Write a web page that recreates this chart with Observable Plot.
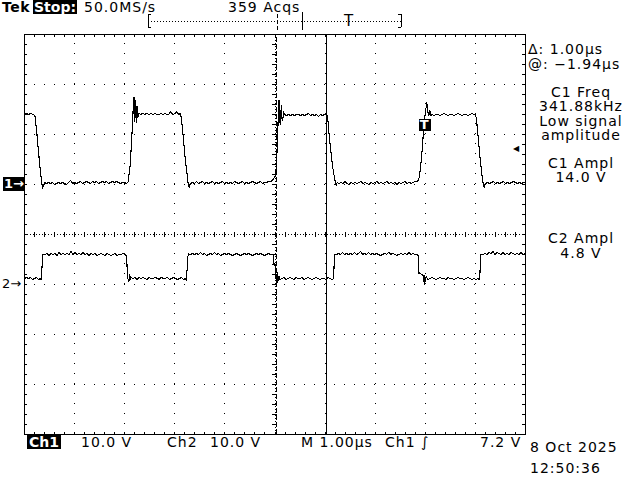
<!DOCTYPE html>
<html>
<head>
<meta charset="utf-8">
<script src="https://cdn.jsdelivr.net/npm/d3@7"></script>
<script src="https://cdn.jsdelivr.net/npm/@observablehq/plot@0.6"></script>
<style>
  html, body { margin: 0; padding: 0; background: #fff; }
  #scope { position: relative; width: 640px; height: 480px; overflow: hidden; background: #fff;
           font-family: "DejaVu Sans", sans-serif; font-size: 14px; letter-spacing: 1px; color: #000; }
  #scope svg { position: absolute; left: 0; top: 0; shape-rendering: crispEdges; }
  .t { position: absolute; line-height: 14px; white-space: pre; }
  .inv { background: #000; color: #fff; font-weight: bold; }
  .c { width: 112px; text-align: center; left: 525px; }
</style>
</head>
<body>
<div id="scope"></div>
<script>
// ---- Readout text ----
const headerTexts = ["Tek", "Stop:", "50.0MS/s", "359 Acqs"];
const cursorTexts = ["\u0394: 1.00\u00b5s", "@: \u22121.94\u00b5s"];
const freqTexts = ["C1 Freq", "341.88kHz", "Low signal", "amplitude"];
const ampl1Texts = ["C1 Ampl", "14.0 V"];
const ampl2Texts = ["C2 Ampl", "4.8 V"];
const footerTexts = ["Ch1", "10.0 V", "Ch2", "10.0 V", "M 1.00\u00b5s", "Ch1 \u222b", "7.2 V"];
const dateTexts = ["8 Oct 2025", "12:50:36"];

// ---- Settings (per channel) ----
const voltsPerDiv = 10;          // both channels 10.0 V/div
const ch1Ground = 5;             // divisions from bottom
const ch2Ground = 3;
const triggerLevel = 7.2;        // V on Ch1
const cursorTimes = [5.02, 6.02]; // µs on screen (Δ = 1.00 µs)
const triggerMark = [{t: 7.99, div: 6.19}];
const recordBar = {start: 2.48, end: 7.52, view: 5.04, cursor: 5.54, trig: 6.48};

// ---- Channel 1 trace [time µs, volts] ----
const ch1Trace = [
 [0.00,14.0],[0.04,14.2],[0.08,14.0],[0.12,14.2],[0.18,14.0],[0.21,13.6],
 [0.24,11.0],[0.27,7.6],[0.30,4.4],[0.33,1.6],[0.35,0.0],[0.36,-0.8],[0.38,-0.2],[0.40,0.4],
 [0.44,0.2],[0.48,0.4],[0.52,0.2],[0.56,0.4],[0.60,0.0],[0.64,0.2],[0.68,0.4],[0.72,0.2],[0.76,0.4],
 [0.80,0.2],[0.84,0.0],[0.88,0.4],[0.92,0.8],[0.96,0.2],[1.00,0.4],[1.04,0.2],[1.08,0.4],[1.12,0.6],
 [1.16,0.2],[1.20,0.4],[1.24,0.6],[1.28,0.4],[1.32,0.2],[1.36,0.6],[1.40,0.4],[1.44,0.6],[1.48,0.2],
 [1.52,0.4],[1.56,0.6],[1.60,0.4],[1.64,0.6],[1.68,0.2],[1.72,0.4],[1.76,0.6],[1.80,0.4],[1.84,0.6],
 [1.88,0.4],[1.92,0.2],[1.96,0.4],[2.00,0.4],[2.04,0.2],
 [2.07,0.6],[2.11,4.0],[2.14,9.0],[2.16,13.0],[2.175,16.5],[2.185,17.4],[2.20,12.6],[2.215,16.8],
 [2.23,12.4],[2.245,15.6],[2.26,13.4],[2.28,14.2],
 [2.32,14.0],[2.36,14.2],[2.40,14.0],[2.44,14.2],[2.48,14.0],[2.52,14.2],[2.56,14.0],[2.60,14.2],
 [2.64,14.0],[2.68,14.0],[2.72,14.2],[2.76,14.0],[2.80,14.2],[2.84,14.0],[2.88,14.0],[2.92,14.6],
 [2.96,14.0],[3.00,14.2],[3.04,14.6],[3.08,14.0],[3.11,14.2],
 [3.13,13.4],[3.17,9.4],[3.21,5.0],[3.25,1.6],[3.27,-0.2],[3.29,-0.6],[3.31,0.2],
 [3.35,0.4],[3.39,0.2],[3.43,0.6],[3.47,0.2],[3.51,0.4],[3.55,0.6],[3.59,0.2],[3.63,0.4],[3.67,0.2],
 [3.71,0.4],[3.75,0.6],[3.79,0.2],[3.83,0.4],[3.87,0.2],[3.91,0.4],[3.95,0.6],[3.99,0.2],[4.03,0.4],
 [4.07,0.2],[4.11,0.4],[4.15,0.2],[4.19,0.6],[4.23,0.4],[4.27,0.2],[4.31,0.4],[4.35,0.6],[4.39,0.2],
 [4.43,0.4],[4.47,0.2],[4.51,0.4],[4.55,0.6],[4.59,0.4],[4.63,0.2],[4.67,0.4],[4.71,0.6],[4.75,0.2],
 [4.79,0.4],[4.83,0.4],[4.87,0.6],[4.91,0.6],
 [4.95,0.8],[5.00,1.6],[5.02,2.8],[5.04,6.5],[5.055,10.1],[5.07,16.0],[5.08,16.8],[5.095,12.6],
 [5.11,12.1],[5.125,15.8],[5.14,13.2],[5.155,12.8],[5.17,14.6],[5.19,14.0],
 [5.23,13.8],[5.27,14.0],[5.31,13.8],[5.35,14.0],[5.39,13.8],[5.43,14.0],[5.47,14.0],[5.51,13.8],
 [5.55,14.0],[5.59,13.8],[5.63,14.0],[5.67,14.2],[5.71,13.8],[5.75,14.0],[5.79,13.8],[5.83,14.0],
 [5.87,13.6],[5.91,14.0],[5.95,13.8],[5.99,14.0],[6.03,14.0],[6.05,13.8],
 [6.065,11.5],[6.09,9.0],[6.12,6.2],[6.15,3.6],[6.185,1.5],[6.21,0.2],[6.22,-0.2],[6.24,0.4],
 [6.28,0.2],[6.32,0.4],[6.36,0.2],[6.40,0.6],[6.44,0.2],[6.48,0.0],[6.52,0.4],[6.56,0.2],[6.60,0.4],
 [6.64,0.2],[6.68,0.4],[6.72,0.6],[6.76,0.2],[6.80,0.4],[6.84,0.2],[6.88,0.0],[6.92,0.4],[6.96,0.2],
 [7.00,0.4],[7.04,0.6],[7.08,0.2],[7.12,0.4],[7.16,0.2],[7.20,0.4],[7.24,0.6],[7.28,0.2],[7.32,0.4],
 [7.36,0.2],[7.40,0.4],[7.44,0.0],[7.48,0.4],[7.52,0.2],[7.56,0.4],[7.60,0.6],[7.64,0.2],[7.68,0.4],
 [7.72,0.2],[7.76,0.4],[7.80,0.6],[7.84,0.6],
 [7.87,1.0],[7.90,3.0],[7.93,6.0],[7.96,10.0],[7.99,13.5],[8.01,15.0],[8.03,16.5],[8.05,14.6],
 [8.07,13.8],[8.09,14.8],[8.11,13.8],[8.13,14.0],
 [8.17,13.8],[8.21,14.0],[8.25,14.0],[8.29,13.8],[8.33,14.0],[8.37,14.2],[8.41,14.0],[8.45,13.8],
 [8.49,14.0],[8.53,14.0],[8.57,13.8],[8.61,14.0],[8.65,14.2],[8.69,14.0],[8.73,13.8],[8.77,14.0],
 [8.81,14.0],[8.85,13.8],[8.89,14.0],[8.93,14.2],[8.97,14.0],[9.00,14.0],
 [9.02,13.2],[9.06,9.0],[9.10,4.6],[9.14,1.2],[9.16,-0.2],[9.18,-0.6],[9.20,0.2],
 [9.24,0.4],[9.28,0.2],[9.32,0.4],[9.36,0.6],[9.40,0.2],[9.44,0.4],[9.48,0.2],[9.52,0.4],[9.56,0.6],
 [9.60,0.2],[9.64,0.4],[9.68,0.2],[9.72,0.4],[9.76,0.6],[9.80,0.4],[9.84,0.2],[9.88,0.4],[9.92,0.2],
 [9.96,0.4],[10.0,0.4]
];

// ---- Channel 2 trace [time µs, volts] ----
const ch2Trace = [
 [0.00,1.2],[0.04,1.4],[0.08,1.2],[0.12,1.4],[0.16,1.0],[0.20,1.2],[0.24,1.4],[0.28,1.0],[0.31,1.2],[0.33,0.9],
 [0.34,2.0],[0.36,5.2],[0.37,6.0],
 [0.41,6.0],[0.45,6.2],[0.49,5.8],[0.53,6.2],[0.57,6.0],[0.61,6.2],[0.65,5.8],[0.69,6.4],[0.73,6.0],
 [0.77,6.2],[0.81,6.0],[0.85,6.2],[0.89,6.0],[0.93,6.6],[0.97,6.0],[1.01,6.4],[1.05,6.0],[1.09,6.2],
 [1.13,6.0],[1.17,6.4],[1.21,6.0],[1.25,6.2],[1.29,5.8],[1.33,6.2],[1.37,6.0],[1.41,6.2],[1.45,5.8],
 [1.49,6.0],[1.53,6.2],[1.57,6.0],[1.61,5.8],[1.65,6.2],[1.69,6.0],[1.73,5.8],[1.77,6.0],[1.81,6.2],
 [1.85,5.8],[1.89,6.0],[1.93,6.0],[1.97,6.2],[2.01,6.0],[2.03,5.8],
 [2.045,4.0],[2.055,1.4],[2.07,1.0],[2.085,0.6],[2.10,2.0],[2.115,1.0],[2.13,1.4],
 [2.17,1.2],[2.21,1.4],[2.25,1.0],[2.29,1.4],[2.33,1.2],[2.37,1.4],[2.41,1.2],[2.45,1.0],[2.49,1.4],
 [2.53,1.2],[2.57,1.2],[2.61,1.4],[2.65,1.2],[2.69,1.0],[2.73,1.4],[2.77,1.2],[2.81,1.2],[2.85,1.4],
 [2.89,1.0],[2.93,1.2],[2.97,1.4],[3.01,1.2],[3.05,1.0],[3.09,1.2],[3.13,1.4],[3.17,1.0],[3.21,1.2],[3.23,0.8],
 [3.245,3.0],[3.26,5.6],[3.275,6.1],
 [3.31,6.0],[3.35,6.2],[3.39,6.0],[3.43,6.2],[3.47,6.0],[3.51,6.4],[3.55,6.0],[3.59,6.2],[3.63,5.8],
 [3.67,6.0],[3.71,6.2],[3.75,6.0],[3.79,6.4],[3.83,6.0],[3.87,6.2],[3.91,5.8],[3.95,6.0],[3.99,6.2],
 [4.03,6.0],[4.07,6.2],[4.11,6.0],[4.15,5.8],[4.19,6.0],[4.23,6.2],[4.27,6.0],[4.31,5.8],[4.35,6.0],
 [4.39,6.2],[4.43,6.0],[4.47,6.2],[4.51,6.0],[4.55,5.8],[4.59,6.0],[4.63,6.2],[4.67,6.0],[4.71,6.2],
 [4.75,6.0],[4.79,5.8],[4.83,6.0],[4.87,6.2],[4.91,6.0],[4.95,6.0],[4.97,5.8],
 [4.98,4.2],[4.99,4.0],[5.00,4.0],[5.01,1.6],[5.02,1.2],[5.04,0.4],[5.05,2.4],[5.06,0.8],[5.08,1.6],[5.10,1.0],
 [5.14,1.2],[5.18,1.4],[5.22,1.0],[5.26,1.2],[5.30,1.4],[5.34,1.2],[5.38,1.0],[5.42,1.4],[5.46,1.2],
 [5.50,1.2],[5.54,1.4],[5.58,1.0],[5.62,1.2],[5.66,1.4],[5.70,1.2],[5.74,1.0],[5.78,1.2],[5.82,1.4],
 [5.86,1.2],[5.90,1.0],[5.94,1.2],[5.98,1.2],[6.02,1.0],[6.06,1.4],[6.10,1.2],[6.14,1.0],
 [6.17,1.2],[6.18,4.0],[6.19,6.0],
 [6.23,6.0],[6.27,6.2],[6.31,6.0],[6.35,6.4],[6.39,6.0],[6.43,6.2],[6.47,6.0],[6.51,6.2],[6.55,6.0],
 [6.59,6.4],[6.63,6.0],[6.67,6.2],[6.71,6.6],[6.75,6.0],[6.79,6.2],[6.83,6.0],[6.87,6.4],[6.91,6.0],
 [6.95,6.2],[6.99,6.0],[7.03,6.2],[7.07,6.0],[7.11,5.8],[7.15,6.0],[7.19,6.2],[7.23,6.0],[7.27,6.4],
 [7.31,6.0],[7.35,6.2],[7.39,6.0],[7.43,5.8],[7.47,6.0],[7.51,6.2],[7.55,6.0],[7.59,6.2],[7.63,6.0],
 [7.67,6.4],[7.71,6.0],[7.75,6.2],[7.79,6.0],[7.83,6.0],[7.86,5.8],
 [7.875,2.2],[7.90,2.2],[7.93,2.0],[7.96,1.8],[7.98,0.2],[7.99,1.8],[8.00,0.6],[8.02,1.6],[8.05,1.0],
 [8.09,1.2],[8.13,1.4],[8.17,1.2],[8.21,1.0],[8.25,1.2],[8.29,1.4],[8.33,1.2],[8.37,1.2],[8.41,1.0],
 [8.45,1.4],[8.49,1.2],[8.53,1.2],[8.57,1.0],[8.61,1.2],[8.65,1.4],[8.69,1.2],[8.73,1.2],[8.77,1.0],
 [8.81,1.2],[8.85,1.4],[8.89,1.2],[8.93,1.0],[8.97,1.2],[9.01,1.0],[9.05,1.2],[9.08,1.0],
 [9.09,2.0],[9.10,5.0],[9.11,6.0],
 [9.15,6.0],[9.19,6.2],[9.23,6.0],[9.27,6.4],[9.31,6.2],[9.35,6.6],[9.39,6.0],[9.43,6.4],[9.47,6.2],
 [9.51,6.0],[9.55,6.4],[9.59,6.0],[9.63,6.2],[9.67,6.0],[9.71,6.4],[9.75,6.2],[9.79,6.0],[9.83,6.2],
 [9.87,6.0],[9.91,6.4],[9.95,6.0],[10.0,6.2]
];

// ---- Graticule ----
const majorX = [1,2,3,4,6,7,8,9];
const majorY = [1,2,3,5,6,7];
const minorX = d3.range(0, 10.001, 0.2);
const minorY = d3.range(0, 8.001, 0.2);

const chart = Plot.plot({
  width: 640, height: 480,
  marginLeft: 24, marginRight: 115, marginTop: 34, marginBottom: 46,
  x: {domain: [0, 10], axis: null},
  y: {domain: [0, 8], axis: null},
  style: {background: "transparent", overflow: "visible"},
  marks: [
    Plot.ruleX(majorX, {y1: 0, y2: 8, stroke: "black", strokeDasharray: "1,9"}),
    Plot.ruleY(majorY, {x1: 0, x2: 10, stroke: "black", strokeDasharray: "1,9"}),
    Plot.ruleX([5], {y1: 0, y2: 8, stroke: "black", strokeDasharray: "1,2"}),
    Plot.ruleY([4], {x1: 0, x2: 10, stroke: "black", strokeDasharray: "1,2"}),
    Plot.ruleX(minorX, {y1: 3.95, y2: 4.05, stroke: "black"}),
    Plot.ruleY(minorY, {x1: 4.95, x2: 5.05, stroke: "black"}),
    Plot.ruleX(minorX, {y1: 0, y2: 0.05, stroke: "black"}),
    Plot.ruleX(minorX, {y1: 7.95, y2: 8, stroke: "black"}),
    Plot.ruleY(minorY, {x1: 0, x2: 0.05, stroke: "black"}),
    Plot.ruleY(minorY, {x1: 9.95, x2: 10, stroke: "black"}),
    Plot.frame({stroke: "black"}),
    // cursors
    Plot.ruleX([cursorTimes[0]], {y1: 0, y2: 8, stroke: "black", strokeDasharray: "5,2"}),
    Plot.ruleX([cursorTimes[1]], {y1: 0, y2: 8, stroke: "black"}),
    // traces
    Plot.line(ch1Trace, {x: d => d[0], y: d => ch1Ground + d[1] / voltsPerDiv, stroke: "black", strokeWidth: 1.1}),
    Plot.line(ch2Trace, {x: d => d[0], y: d => ch2Ground + d[1] / voltsPerDiv, stroke: "black", strokeWidth: 1.1}),
    // trigger marker (T box) and trigger level arrow
    Plot.dot(triggerMark, {x: "t", y: "div", symbol: "square", r: 6.6, fill: "black", stroke: null}),
    Plot.text(triggerMark, {x: "t", y: "div", text: () => "T", fill: "white", fontSize: 13, fontWeight: "bold", fontFamily: "DejaVu Sans"}),
    Plot.text([triggerLevel], {x: () => 10, y: d => ch1Ground + d / voltsPerDiv, text: () => "\u25c0", textAnchor: "end", dx: -6, fontSize: 8, fill: "black"}),
    // record-length bar above the screen
    Plot.ruleY([8.26], {x1: recordBar.start, x2: recordBar.end, stroke: "black", strokeDasharray: "1,2"}),
    Plot.ruleX([recordBar.start, recordBar.end], {y1: 8.14, y2: 8.40, stroke: "black"}),
    Plot.ruleY([8.14, 8.40], {x1: recordBar.start, x2: recordBar.start + 0.06, stroke: "black"}),
    Plot.ruleY([8.14, 8.40], {x1: recordBar.end - 0.06, x2: recordBar.end, stroke: "black"}),
    Plot.ruleX([recordBar.view], {y1: 8.08, y2: 8.42, stroke: "black", strokeDasharray: "4,2"}),
    Plot.ruleX([recordBar.cursor], {y1: 8.08, y2: 8.44, stroke: "black"}),
    Plot.text([recordBar.trig], {x: d => d, y: () => 8.27, text: () => "T", fontSize: 15, fontFamily: "DejaVu Sans", fill: "black"})
  ]
});

const scope = document.getElementById("scope");
scope.appendChild(chart);

function addText(txt, left, top, cls, extra) {
  const el = document.createElement("div");
  el.className = "t" + (cls ? " " + cls : "");
  el.textContent = txt;
  if (left !== null) el.style.left = left + "px";
  el.style.top = top + "px";
  if (extra) Object.assign(el.style, extra);
  scope.appendChild(el);
  return el;
}

// header
addText(headerTexts[0], 2, 0, null, {fontWeight: "bold", letterSpacing: "0.5px"});
addText(headerTexts[1], 33, 0, "inv", {padding: "0 1px", letterSpacing: "0px"});
addText(headerTexts[2], 84, 0);
addText(headerTexts[3], 228, 0);

// cursor readouts (one block, two lines)
addText(cursorTexts.join("\n"), 528, 42, null, {lineHeight: "15px"});

// measurements (centered blocks)
addText(freqTexts.join("\n"), null, 85, "c", {lineHeight: "14.4px"});
addText(ampl1Texts.join("\n"), null, 156, "c", {lineHeight: "14px"});
addText(ampl2Texts.join("\n"), null, 231, "c", {lineHeight: "15px"});

// footer
const footerLefts = [27, 81, 167, 210, 301, 385, 480];
footerTexts.forEach((s, i) => addText(s, footerLefts[i], 435, i === 0 ? "inv" : null,
  i === 0 ? {padding: "0 2px", letterSpacing: "0px"} : null));
addText(dateTexts.join("\n"), 530, 437, null, {lineHeight: "21px"});

// ground markers
addText("1\u2192", 3, 177, "inv", {fontSize: "13px", letterSpacing: "0px", padding: "0 1px"});
addText("2\u2192", 2, 277, null, {fontSize: "13px", letterSpacing: "0px"});
</script>
</body>
</html>
